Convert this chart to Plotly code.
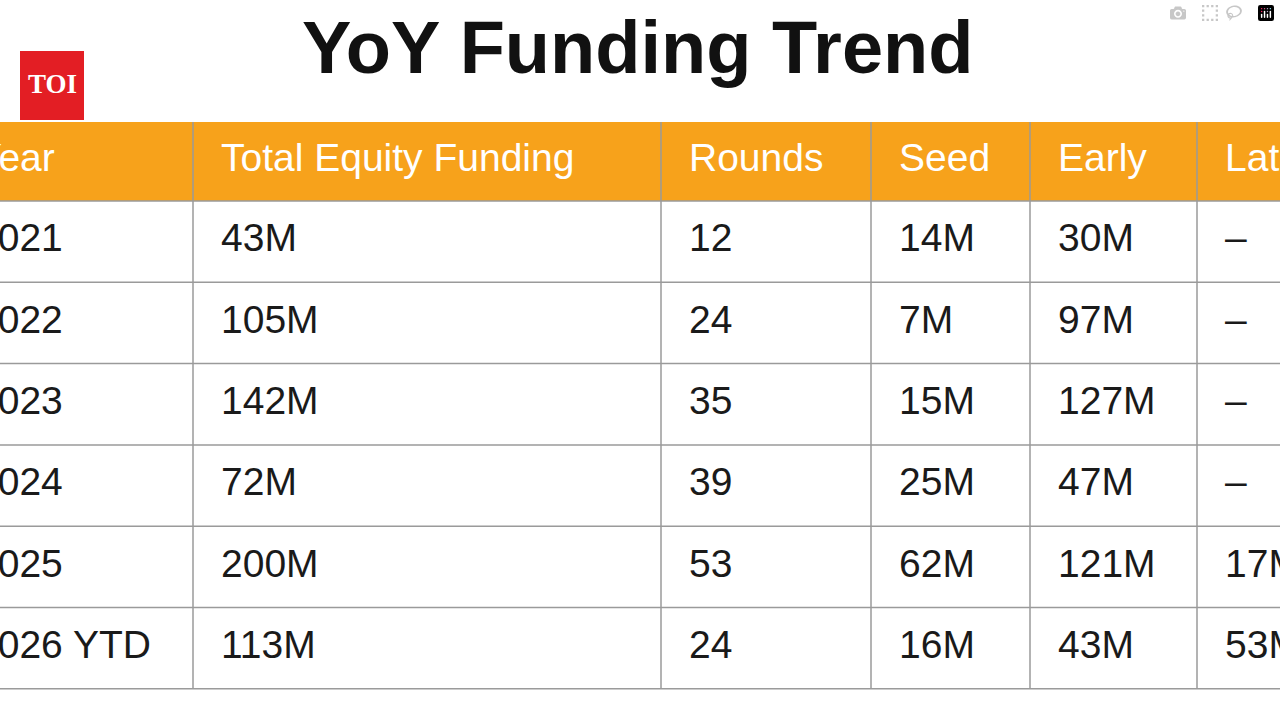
import plotly.graph_objects as go

# table data
headers = ["Year", "Total Equity Funding", "Rounds", "Seed", "Early", "Late"]
years = ["2021", "2022", "2023", "2024", "2025", "2026 YTD"]
total_funding = ["43M", "105M", "142M", "72M", "200M", "113M"]
rounds = ["12", "24", "35", "39", "53", "24"]
seed = ["14M", "7M", "15M", "25M", "62M", "16M"]
early = ["30M", "97M", "127M", "47M", "121M", "43M"]
late = ["–", "–", "–", "–", "17M", "53M"]

columns = [years, total_funding, rounds, seed, early, late]

# layout in pixel-like coordinates (table is cropped at both sides, as in the source image)
col_edges = [-52, 193, 661, 871, 1030, 1197, 1420]
header_top, header_bottom = 122, 201
row_h = 81.3
pad = 28
orange = "#F7A21B"
line_col = "#9a9a9a"

fig = go.Figure()

shapes = [dict(type="rect", xref="x", yref="y", x0=col_edges[0], x1=col_edges[-1],
               y0=header_top, y1=header_bottom, fillcolor=orange, line=dict(width=0), layer="below")]
n_rows = len(years)
table_bottom = header_bottom + n_rows * row_h
for xe in col_edges[1:-1]:
    shapes.append(dict(type="line", xref="x", yref="y", x0=xe, x1=xe, y0=header_top, y1=table_bottom,
                       line=dict(color=line_col, width=1.5)))
for i in range(n_rows + 1):
    y = header_bottom + i * row_h
    shapes.append(dict(type="line", xref="x", yref="y", x0=col_edges[0], x1=col_edges[-1], y0=y, y1=y,
                       line=dict(color=line_col, width=1.5)))
# TOI logo box
shapes.append(dict(type="rect", xref="paper", yref="paper", x0=20/1280, x1=84/1280,
                   y0=1-120/720, y1=1-51/720, fillcolor="#E31E24", line=dict(width=0)))

fig.add_trace(go.Scatter(
    x=[col_edges[i] + pad for i in range(len(headers))],
    y=[(header_top + header_bottom) / 2] * len(headers),
    text=headers, mode="text", textposition="middle right",
    textfont=dict(family="Liberation Sans, Arial", size=39, color="white"),
    hoverinfo="skip"))

for c, vals in enumerate(columns):
    fig.add_trace(go.Scatter(
        x=[col_edges[c] + pad] * n_rows,
        y=[header_bottom + (r + 0.5) * row_h for r in range(n_rows)],
        text=vals, mode="text", textposition="middle right",
        textfont=dict(family="Liberation Sans, Arial", size=39, color="#1a1a1a"),
        hoverinfo="skip"))

fig.update_layout(
    width=1280, height=720,
    margin=dict(l=0, r=0, t=0, b=0),
    paper_bgcolor="white", plot_bgcolor="white",
    showlegend=False,
    shapes=shapes,
    xaxis=dict(range=[0, 1280], visible=False, fixedrange=True),
    yaxis=dict(range=[720, 0], visible=False, fixedrange=True),
    annotations=[
        dict(text="<b>YoY Funding Trend</b>", x=637/1280, y=1-48/720, xref="paper", yref="paper",
             xanchor="center", yanchor="middle", showarrow=False,
             font=dict(family="Liberation Sans, Arial", size=74, color="#111111")),
        dict(text="<b>TOI</b>", x=52/1280, y=1-84/720, xref="paper", yref="paper",
             xanchor="center", yanchor="middle", showarrow=False,
             font=dict(family="Liberation Serif, Times New Roman", size=27, color="white")),
    ],
)

# drop the page's default body margin so the figure sits at the window's corner
fig.write_html("out.html", post_script="document.body.style.margin='0';")
